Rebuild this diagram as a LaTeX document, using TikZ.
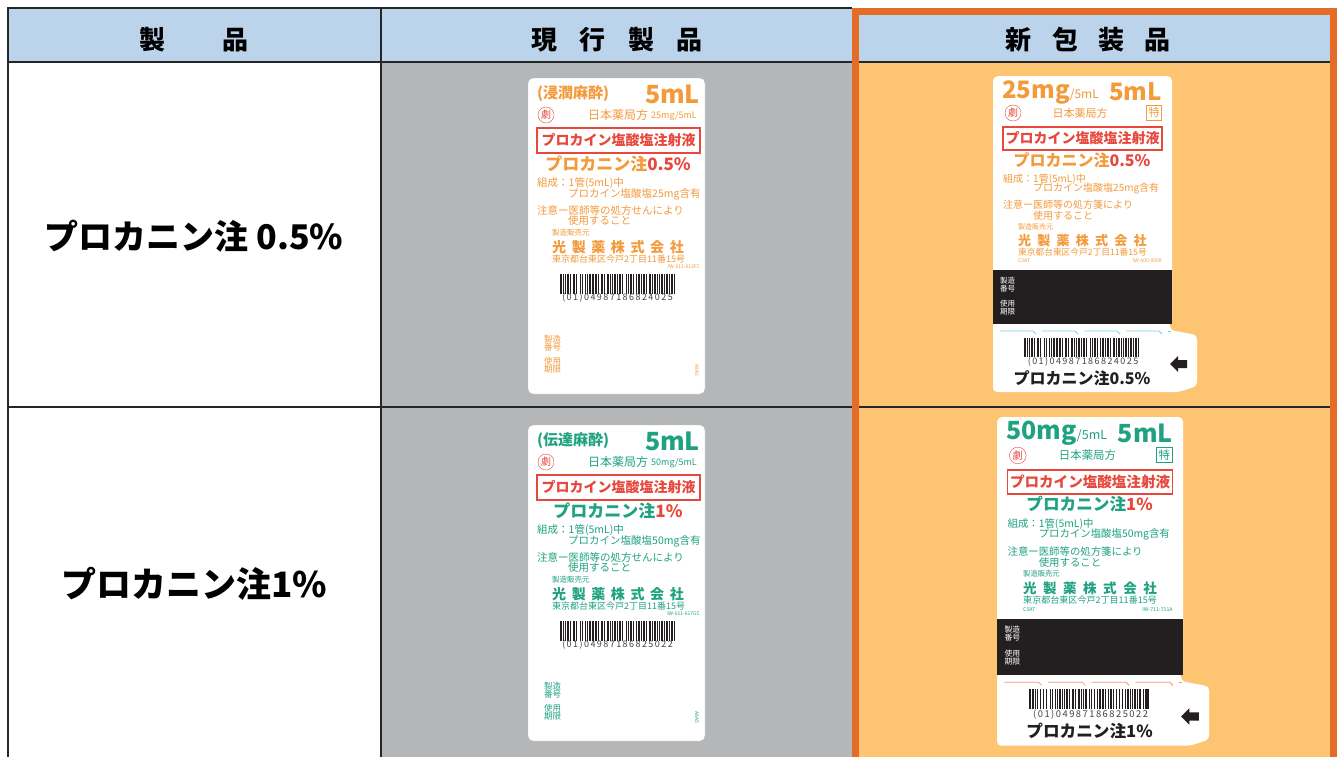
\documentclass[tikz,border=0pt]{standalone}
\usepackage{fontspec}
\setmainfont{Noto Sans CJK JP}
\usetikzlibrary{calc}

\definecolor{headblue}{HTML}{BBD4EC}
\definecolor{oldgray}{HTML}{B5B6B8}
\definecolor{newfill}{HTML}{FDC572}
\definecolor{frameorange}{HTML}{E56C27}
\definecolor{lblorange}{HTML}{F39A3B}
\definecolor{lblgreen}{HTML}{1FA281}
\definecolor{lblred}{HTML}{E8473C}
\definecolor{band}{HTML}{231F20}
\definecolor{cutblue}{HTML}{7CCFEA}
\definecolor{cutred}{HTML}{F29379}

\tikzset{
  jp/.style={inner sep=0pt, font=\fontsize{#1}{#1}\selectfont},
  jpb/.style={inner sep=0pt, font=\fontsize{#1}{#1}\selectfont\bfseries},
  digits/.style={inner sep=0pt, text=band!85, font=\fontsize{#1}{#1}\selectfont\addfontfeature{LetterSpace=16}},
  tableline/.style={line width=1.2pt, draw=black!85},
}

\newcommand{\barcodebars}[2]{%
  \begin{scope}[shift={#1}]
    \foreach \bx/\bw in {0/1.6, 2.6/1.6, 5.2/0.8, 7/1.6, 10/0.8, 13/1.6, 16/0.8, 19.5/0.8, 21.5/1.6, 25/0.8, 27/0.8, 29/1.6, 31.6/0.8, 33.4/0.8, 35.2/1.6, 38/0.8, 41/1.6, 44/0.8, 47/1.6, 49.6/0.8, 52/0.8, 54/1.6, 57/0.8, 59/1.6, 62/0.8, 65.5/0.8, 67.5/1.6, 70.2/1.6, 73/0.8, 76/0.8, 78/1.6, 81/0.8, 83/1.6, 86/0.8, 89/1.6, 91.6/0.8, 94/1.6, 97/0.8, 99/0.8, 101/1.6, 104/0.8, 106/1.6, 109/0.8, 111.4/1.6, 113.6/1.6}
      \fill[band] (\bx,0) rectangle ++(\bw,#2);
  \end{scope}}

% current label: pos, colour, use, mg, percent, code, IW, name
\newcommand{\oldpack}[8]{%
  \begin{scope}[shift={#1}]
    \filldraw[fill=white, draw=gray!50, rounded corners=5pt] (0,0) rectangle (177,316);
    \node[jpb=15, text=#2, anchor=west] (#8-use) at (9,16) {(#3)};
    \node[jpb=25, text=#2, anchor=east] (#8-vol) at (172,16) {5mL};
    \node[jp=10, circle, draw=lblred, text=lblred, minimum size=16pt] (#8-geki) at (18,37) {劇};
    \node[jp=12, text=#2, anchor=west] (#8-jp) at (60,37) {日本薬局方};
    \node[jp=9, text=#2, anchor=west] (#8-mg) at (123,38) {#4/5mL};
    \node[jpb=14, text=lblred, draw=lblred, line width=1.3pt, minimum width=163pt, minimum height=25pt] (#8-gen) at (90.5,62.5) {プロカイン塩酸塩注射液};
    \node[jpb=17, text=#2] (#8-name) at (90,86) {プロカニン注\textcolor{lblred}{#5}};
    \node[jp=10.5, text=#2, anchor=west] (#8-comp) at (9,105) {組成：1管(5mL)中};
    \node[jp=10.5, text=#2, anchor=west] (#8-dose) at (40,116) {プロカイン塩酸塩#4含有};
    \node[jp=10.5, text=#2, anchor=west] (#8-warn) at (9,132) {注意ー医師等の処方せんにより};
    \node[jp=10.5, text=#2, anchor=west] (#8-use2) at (40,143) {使用すること};
    \node[jp=7.5, text=#2, anchor=west] (#8-mkr) at (24,155) {製造販売元};
    \node[jpb=14, text=#2, anchor=west] (#8-co) at (24,169) {光\hspace{.4em}製\hspace{.4em}薬\hspace{.4em}株\hspace{.4em}式\hspace{.4em}会\hspace{.4em}社};
    \node[jp=9, text=#2, anchor=west] (#8-addr) at (24,181) {東京都台東区今戸2丁目11番15号};
    \node[jp=5, text=#2, anchor=east] (#8-iw) at (172,189) {#7};
    \barcodebars{(32,196)}{20}
    \node[digits=9] (#8-code) at (89.5,220) {(01)#6};
    \node[jp=8.5, text=#2, align=left, anchor=north west] (#8-lot) at (16,257) {製造\\番号};
    \node[jp=8.5, text=#2, align=left, anchor=north west] (#8-exp) at (16,279) {使用\\期限};
    \node[jp=5, text=#2, rotate=-90] (#8-rev) at (169,292) {A8A5};
  \end{scope}}

% new label: pos, scale, colour, cut colour, mg, percent, code, IW, name
\newcommand{\newpack}[9]{%
  \begin{scope}[shift={#1}, scale=#2, transform shape]
    \fill[white, rounded corners=5pt] (0,0) rectangle (179,248);
    \fill[white, rounded corners=4pt] (0,246) -- (177,246) -- (177,254) -- (204,259) -- (204,310) -- (186,316) -- (0,316) -- cycle;
    \node[jpb=24, text=#3, anchor=west] (#9-mg) at (9,16) {#5{\fontsize{12}{12}\selectfont\mdseries/5mL}};
    \node[jpb=24, text=#3, anchor=east] (#9-vol) at (169,16) {5mL};
    \node[jp=10, circle, draw=lblred, text=lblred, minimum size=16pt] (#9-geki) at (20,37) {劇};
    \node[jp=11, text=#3] (#9-jp) at (87,37) {日本薬局方};
    \node[jp=11, text=#3, draw=#3, line width=0.8pt, minimum size=15pt] (#9-toku) at (161,36.5) {特};
    \node[jpb=14, text=lblred, draw=lblred, line width=1.3pt, minimum width=159pt, minimum height=23pt] (#9-gen) at (89.5,62.5) {プロカイン塩酸塩注射液};
    \node[jpb=16, text=#3] (#9-name) at (89,84) {プロカニン注\textcolor{lblred}{#6}};
    \node[jp=10, text=#3, anchor=west] (#9-comp) at (10,103) {組成：1管(5mL)中};
    \node[jp=10, text=#3, anchor=west] (#9-dose) at (40,113) {プロカイン塩酸塩#5含有};
    \node[jp=10, text=#3, anchor=west] (#9-warn) at (10,129) {注意ー医師等の処方箋により};
    \node[jp=10, text=#3, anchor=west] (#9-use) at (40,140) {使用すること};
    \node[jp=7, text=#3, anchor=west] (#9-mkr) at (25,151) {製造販売元};
    \node[jpb=13, text=#3, anchor=west] (#9-co) at (25,165) {光\hspace{.48em}製\hspace{.48em}薬\hspace{.48em}株\hspace{.48em}式\hspace{.48em}会\hspace{.48em}社};
    \node[jp=8.7, text=#3, anchor=west] (#9-addr) at (25,176) {東京都台東区今戸2丁目11番15号};
    \node[jp=5, text=#3, anchor=west] (#9-lot) at (25,185) {C5AT};
    \node[jp=5, text=#3, anchor=east] (#9-iw) at (169,185) {#8};
    \fill[band] (0,194) rectangle (179,248);
    \node[jp=7.5, text=white, align=left, anchor=north west] (#9-no) at (7,201) {製造\\番号};
    \node[jp=7.5, text=white, align=left, anchor=north west] (#9-exp) at (7,224) {使用\\期限};
    \foreach \cx in {7,49,91,133}
      \draw[#4, line width=0.8pt] (\cx,255) -- ++(33,0) -- ++(3,3);
    \draw[#4, line width=0.8pt] (175,255) -- (178,255);
    \barcodebars{(31,262)}{19}
    \node[digits=9] (#9-code) at (90,286) {(01)#7};
    \node[jpb=16, text=band] (#9-btm) at (89,302) {プロカニン注#6};
    \fill[band] (177,288) -- (185,280) -- (185,284) -- (194,284) -- (194,292) -- (185,292) -- (185,296) -- cycle;
  \end{scope}}

\begin{document}
\begin{tikzpicture}[x=1pt, y=-1pt]
  \useasboundingbox (0,0) rectangle (1337,756);
  \clip (0,0) rectangle (1337,756);
  \fill[white] (0,0) rectangle (1337,756);

  % cells
  \fill[headblue] (8,8) rectangle (852,62);
  \fill[oldgray] (381,62) rectangle (852,770);
  \fill[newfill] (852,8) rectangle (1337,770);
  \fill[headblue] (858,15) rectangle (1331,62);

  % rules
  \draw[tableline] (8,770) -- (8,8) -- (852,8);
  \draw[tableline] (381,8) -- (381,770);
  \draw[tableline] (8,62) -- (1331,62);
  \draw[tableline] (8,407) -- (1331,407);
  \draw[frameorange, line width=7pt] (855,11.5) rectangle (1333.5,780);

  % header
  \node[jpb=26] (h-prod) at (194,39.5) {製\hspace{2.2em}品};
  \node[jpb=26] (h-cur) at (617,39.5) {現\hspace{.85em}行\hspace{.85em}製\hspace{.85em}品};
  \node[jpb=26] (h-new) at (1088,39.5) {新\hspace{.77em}包\hspace{.77em}装\hspace{.77em}品};

  % products
  \node[jpb=34] (p05) at (194,236) {プロカニン注 0.5\%};
  \node[jpb=35] (p1) at (194,584) {プロカニン注1\%};

  % labels
  \oldpack{(528,78)}{lblorange}{浸潤麻酔}{25mg}{0.5\%}{04987186824025}{IW-011-613FC}{old05}
  \oldpack{(528,425)}{lblgreen}{伝達麻酔}{50mg}{1\%}{04987186825022}{IW-011-617GC}{old1}
  \newpack{(993,76)}{1}{lblorange}{cutblue}{25mg}{0.5\%}{04987186824025}{IW-000-000X}{new05}
  \newpack{(997,417)}{1.04}{lblgreen}{cutred}{50mg}{1\%}{04987186825022}{IW-711-711A}{new1}
\end{tikzpicture}
\end{document}
